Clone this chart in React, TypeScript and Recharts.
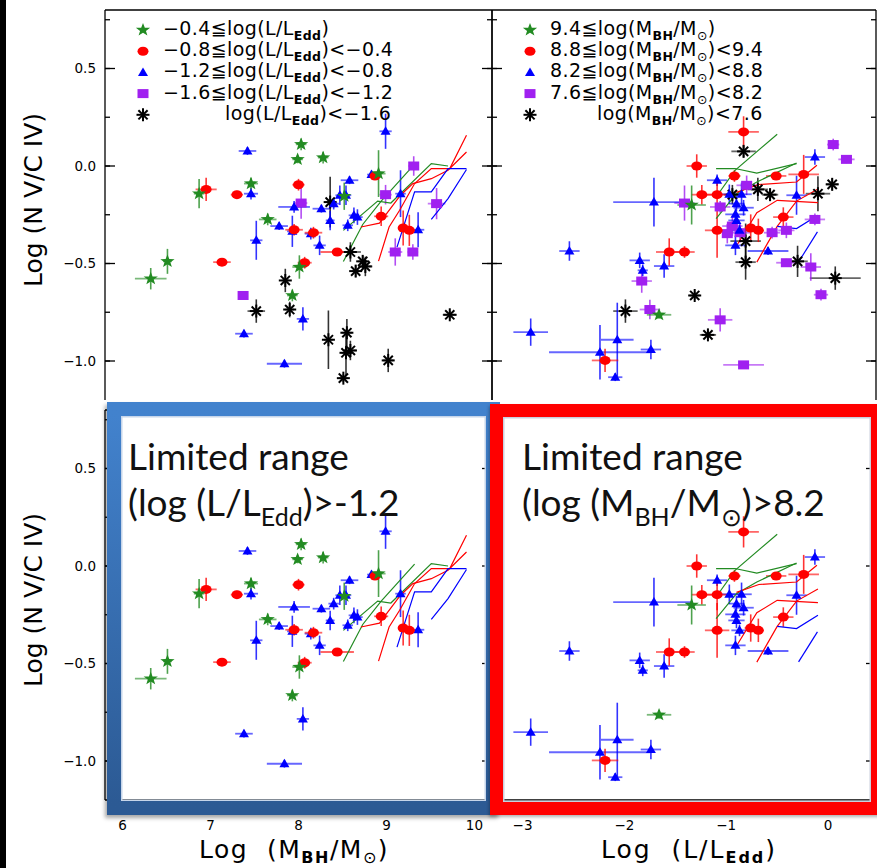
import React from "react";
import { ScatterChart, Scatter, XAxis, YAxis, ErrorBar } from "recharts";

type Err = number | [number, number];
type Pt = [number, number, Err, Err];

// log(NV/CIV) vs log(M_BH), split by Eddington ratio  [x, y, xerr, yerr]
const massEddStar: Pt[] = [
  [6.32, -0.578, 0.18, 0.055], [6.51, -0.489, 0.05, 0.064], [6.87, -0.142, 0.06, 0.075],
  [7.46, -0.09, 0.08, 0.03], [7.65, -0.274, 0.1, 0.03], [7.99, 0.034, 0.06, 0.02],
  [8.03, 0.111, 0.06, 0.03], [8.28, 0.043, 0.06, 0.03], [8.01, -0.518, 0.08, 0.06],
  [7.93, -0.664, 0.06, 0.03], [8.91, -0.039, 0.08, 0.12], [8.52, -0.155, 0.06, 0.07],
];
const massEddCircle: Pt[] = [
  [6.95, -0.12, 0.12, 0.06], [7.3, -0.147, 0.07, 0.02], [7.13, -0.493, 0.1, 0.01],
  [8.0, -0.096, 0.07, 0.03], [7.95, -0.327, 0.1, 0.03], [8.17, -0.342, 0.1, 0.03],
  [8.07, -0.496, 0.08, 0.03], [8.44, -0.441, 0.19, 0.02], [8.87, -0.051, 0.05, 0.02],
  [8.94, -0.258, 0.08, 0.05], [9.19, -0.318, 0.06, 0.09], [9.26, -0.33, 0.06, 0.08],
];
const massEddTri: Pt[] = [
  [7.42, 0.077, 0.1, 0.02], [7.46, -0.142, 0.08, 0.03], [7.52, -0.381, 0.07, 0.1],
  [7.38, -0.86, 0.1, 0.02], [7.84, -1.014, 0.2, 0.02], [8.05, -0.784, 0.07, 0.06],
  [7.78, -0.308, 0.1, 0.02], [7.95, -0.21, 0.18, 0.03], [7.93, -0.335, 0.06, 0.08],
  [8.14, -0.347, 0.07, 0.03], [8.24, -0.407, 0.07, 0.05], [8.26, -0.219, 0.1, 0.02],
  [8.36, -0.279, 0.05, 0.05], [8.4, -0.193, 0.06, 0.03], [8.47, -0.15, 0.05, 0.05],
  [8.54, -0.15, 0.06, 0.05], [8.58, -0.073, 0.1, 0.02], [8.56, -0.304, 0.06, 0.03],
  [8.63, -0.253, 0.06, 0.04], [8.67, -0.262, 0.06, 0.04], [8.83, -0.044, 0.05, 0.02],
  [8.99, 0.178, 0.07, 0.09], [9.16, -0.142, 0.06, 0.12], [9.36, -0.327, 0.07, 0.09],
];
const massEddSquare: Pt[] = [
  [7.37, -0.664, 0.03, 0.02], [8.03, -0.19, 0.07, 0.08], [8.99, -0.147, 0.07, 0.05],
  [9.31, 0.0, 0.06, 0.05], [9.57, -0.193, 0.1, 0.08], [9.1, -0.441, 0.08, 0.07],
  [9.3, -0.441, 0.06, 0.04],
];
const massEddAst: Pt[] = [
  [8.36, -0.185, 0.05, 0.13], [8.59, -0.441, 0.12, 0.05], [8.73, -0.489, 0.05, 0.03],
  [8.65, -0.539, 0.04, 0.03], [8.76, -0.515, 0.08, 0.05], [7.85, -0.587, 0.04, 0.06],
  [7.52, -0.744, 0.1, 0.06], [7.9, -0.736, 0.05, 0.04], [8.34, -0.891, 0.05, 0.15],
  [8.55, -0.855, 0.06, 0.07], [8.54, -0.958, 0.05, 0.12], [8.59, -0.946, 0.07, 0.05],
  [8.51, -1.088, 0.05, 0.02], [9.02, -0.997, 0.06, 0.06], [9.72, -0.763, 0.08, 0.02],
];

// log(NV/CIV) vs log(L/L_Edd), split by black hole mass
const eddMassStar: Pt[] = [
  [-1.34, -0.2, 0.14, 0.1], [-1.66, -0.763, 0.12, 0.02],
];
const eddMassCircle: Pt[] = [
  [-0.83, 0.175, 0.15, 0.08], [-1.29, 0.0, 0.1, 0.06], [-0.92, -0.051, 0.06, 0.03],
  [-0.51, -0.051, 0.1, 0.02], [-0.24, -0.043, 0.15, 0.1], [-1.24, -0.147, 0.1, 0.05],
  [-1.09, -0.147, 0.1, 0.08], [-1.09, -0.33, 0.12, 0.14], [-0.76, -0.318, 0.06, 0.07],
  [-0.685, -0.33, 0.05, 0.06], [-0.44, -0.262, 0.1, 0.05], [-1.56, -0.441, 0.13, 0.07],
  [-1.41, -0.441, 0.1, 0.03], [-2.19, -0.997, 0.13, 0.06],
];
const eddMassTri: Pt[] = [
  [-0.13, 0.046, 0.1, 0.04], [-1.09, -0.073, 0.1, 0.03], [-0.97, -0.145, 0.1, 0.05],
  [-0.85, -0.145, 0.1, 0.06], [-0.9, -0.193, 0.08, 0.04], [-0.83, -0.214, 0.1, 0.04],
  [-0.91, -0.248, 0.1, 0.03], [-0.9, -0.279, 0.08, 0.04], [-0.87, -0.33, 0.08, 0.03],
  [-0.91, -0.407, 0.1, 0.05], [-0.59, -0.436, 0.2, 0.02], [-0.31, -0.15, 0.1, 0.1],
  [-1.71, -0.185, [0.4, 0.38], 0.125], [-2.54, -0.436, 0.1, 0.05], [-1.85, -0.484, 0.1, 0.04],
  [-1.82, -0.535, 0.05, 0.03], [-1.61, -0.513, 0.1, 0.06], [-2.92, -0.852, 0.17, 0.07],
  [-2.07, -0.891, 0.16, 0.19], [-2.24, -0.955, [0.5, 0.49], 0.14], [-1.74, -0.941, 0.1, 0.05],
  [-2.09, -1.083, 0.07, 0.02],
];
const eddMassSquare: Pt[] = [
  [0.05, 0.11, 0.06, 0.03], [0.18, 0.034, 0.08, 0.02], [-0.8, -0.099, 0.1, 0.05],
  [-1.06, -0.21, 0.1, 0.03], [-1.41, -0.19, 0.1, 0.09], [-0.94, -0.308, 0.1, 0.05],
  [-0.99, -0.347, 0.05, 0.05], [-0.865, -0.342, 0.1, 0.05], [-0.55, -0.342, 0.08, 0.03],
  [-0.41, -0.33, 0.08, 0.04], [-0.13, -0.274, 0.1, 0.03], [-0.41, -0.496, 0.1, 0.02],
  [-0.17, -0.518, 0.1, 0.07], [-0.07, -0.66, 0.07, 0.03], [-1.83, -0.59, 0.1, 0.06],
  [-1.75, -0.736, 0.1, 0.05], [-1.06, -0.789, 0.12, 0.06], [-0.83, -1.02, 0.2, 0.02],
];
const eddMassAst: Pt[] = [
  [-0.83, 0.075, 0.12, 0.03], [-0.94, -0.147, 0.08, 0.05], [-0.69, -0.12, 0.1, 0.06],
  [-0.57, -0.147, 0.08, 0.03], [0.04, -0.094, 0.06, 0.03], [-0.1, -0.142, 0.12, 0.09],
  [-0.81, -0.385, 0.15, 0.09], [-0.81, -0.493, 0.1, 0.09], [-0.3, -0.489, 0.1, 0.08],
  [0.07, -0.575, 0.25, 0.06], [-1.31, -0.664, 0.05, 0.02], [-1.18, -0.866, 0.08, 0.02],
  [-1.99, -0.744, 0.12, 0.06],
];

// model tracks
const massTracksGreen = [
  [[8.51, -0.49], [8.73, -0.3], [8.94, -0.18], [9.32, 0.01]],
  [[8.51, -0.33], [8.9, -0.18], [9.05, -0.19], [9.51, 0.012], [9.7, 0.0]],
];
const massTracksRed = [
  [[8.71, -0.313], [8.92, -0.293], [9.16, -0.15], [9.3, -0.09], [9.51, -0.065], [9.7, -0.022], [9.91, 0.072]],
  [[8.91, -0.488], [9.03, -0.313], [9.15, -0.227], [9.32, -0.09], [9.51, -0.013], [9.72, -0.013], [9.91, 0.158]],
];
const massTracksBlue = [
  [[9.12, -0.416], [9.32, -0.133], [9.51, -0.133], [9.7, -0.013], [9.91, -0.013]],
  [[9.51, -0.274], [9.7, -0.167], [9.91, -0.018]],
];
const eddTracksGreen = [
  [[-1.1, -0.013], [-0.914, -0.013], [-0.7, -0.036], [-0.31, 0.012]],
  [[-1.1, -0.159], [-0.914, -0.022], [-0.5, 0.163]],
  [[-1.1, -0.27], [-0.9, -0.142], [-0.7, -0.082], [-0.31, 0.015]],
];
const eddTracksRed = [
  [[-0.9, -0.135], [-0.68, -0.095], [-0.31, -0.082], [-0.11, 0.004]],
  [[-0.9, -0.41], [-0.7, -0.24], [-0.5, -0.176], [-0.1, -0.188]],
  [[-0.7, -0.493], [-0.5, -0.31], [-0.31, -0.18], [-0.1, -0.118]],
];
const eddTracksBlue = [
  [[-0.5, -0.31], [-0.31, -0.321], [-0.1, -0.253]],
  [[-0.29, -0.492], [-0.105, -0.338]],
];

const yMajor = [-1, -0.5, 0, 0.5];
const yMinor = [-1, -0.75, -0.5, -0.25, 0, 0.25, 0.5, 0.75];
const massTicks = [6, 7, 8, 9, 10];
const massMinor = [6, 6.5, 7, 7.5, 8, 8.5, 9, 9.5, 10];
const eddTicks = [-3, -2, -1, 0];

const GREEN = "#228b22";
const RED = "#ff0000";
const BLUE = "#0000ff";
const PURPLE = "#a020f0";
const BLACK = "#000000";
const AXIS_FONT = "DejaVu Sans";
const THIN = 0.001; // mirrored axes take (almost) no room

const minus = (s: string) => s.replace("-", "\u2212");
const fmtY = (v: number) => minus(v.toFixed(1));
const fmtX = (v: number) => minus(String(v));

function starPoints(cx: number, cy: number, R: number, r: number) {
  const pts: string[] = [];
  for (let i = 0; i < 10; i++) {
    const a = -Math.PI / 2 + (i * Math.PI) / 5;
    const rad = i % 2 === 0 ? R : r;
    pts.push(`${cx + rad * Math.cos(a)},${cy + rad * Math.sin(a) * 0.92}`);
  }
  return pts.join(" ");
}

function Mark({ kind, cx, cy, color }: { kind: string; cx: number; cy: number; color: string }) {
  if (kind === "star") return <polygon points={starPoints(cx, cy, 7.5, 3.1)} fill={color} />;
  if (kind === "circle") return <ellipse cx={cx} cy={cy} rx={5.5} ry={4.5} fill={color} />;
  if (kind === "tri")
    return <polygon points={`${cx - 5},${cy + 3.5} ${cx + 5},${cy + 3.5} ${cx},${cy - 5}`} fill={color} />;
  if (kind === "square") return <rect x={cx - 5.5} y={cy - 4.5} width={11} height={9} fill={color} />;
  const d = 4.6;
  return (
    <g stroke={color} strokeWidth={2}>
      <line x1={cx - 6.5} y1={cy} x2={cx + 6.5} y2={cy} />
      <line x1={cx} y1={cy - 6.5} x2={cx} y2={cy + 6.5} />
      <line x1={cx - d} y1={cy - d} x2={cx + d} y2={cy + d} />
      <line x1={cx - d} y1={cy + d} x2={cx + d} y2={cy - d} />
    </g>
  );
}

type Group = { pts: Pt[]; kind: string; color: string };
type Track = { line: number[][]; color: string };

const toRows = (pts: Pt[]) => pts.map(([x, y, ex, ey]) => ({ x, y, ex, ey }));

function Panel(props: {
  left: number;
  top: number;
  width: number;
  height: number;
  margin: { top: number; right: number; bottom: number; left: number };
  xDomain: [number, number];
  xTicks: number[];
  xMinor: number[];
  yLabels: boolean;
  xLabels: boolean;
  groups: Group[];
  tracks: Track[];
}) {
  const { xDomain, xTicks, xMinor } = props;
  const tickStyle = { fontSize: 13.5, fill: "#000", fontFamily: AXIS_FONT };
  const blank = () => "";
  const frame = { stroke: "#000", strokeWidth: 1.3 };
  return (
    <div style={{ position: "absolute", left: props.left, top: props.top }}>
      <ScatterChart width={props.width} height={props.height} margin={props.margin}>
        <XAxis
          xAxisId="x"
          type="number"
          dataKey="x"
          domain={xDomain}
          ticks={xTicks}
          interval={0}
          allowDataOverflow
          hide={!props.xLabels}
          height={30}
          tickSize={0}
          tickMargin={20}
          axisLine={false}
          tick={tickStyle}
          tickFormatter={fmtX}
        />
        <XAxis xAxisId="xt" type="number" orientation="top" mirror height={THIN} domain={xDomain}
          ticks={xMinor} interval={0} allowDataOverflow tickSize={7} axisLine={frame} tickLine={frame}
          tickFormatter={blank} />
        {props.xLabels && (
          <XAxis xAxisId="xb" type="number" orientation="bottom" mirror height={THIN} domain={xDomain}
            ticks={xMinor} interval={0} allowDataOverflow tickSize={7} axisLine={frame} tickLine={frame}
            tickFormatter={blank} />
        )}
        <YAxis
          yAxisId="y"
          type="number"
          dataKey="y"
          domain={[-1.2, 0.8]}
          ticks={yMajor}
          interval={0}
          allowDataOverflow
          hide={!props.yLabels}
          width={60}
          tickSize={0}
          tickMargin={9}
          axisLine={false}
          tick={tickStyle}
          tickFormatter={fmtY}
        />
        <YAxis yAxisId="yl" type="number" mirror width={THIN} domain={[-1.2, 0.8]} ticks={yMinor} interval={0}
          allowDataOverflow tickSize={5} axisLine={frame} tickLine={frame} tickFormatter={blank} />
        <YAxis yAxisId="yL" type="number" mirror width={THIN} domain={[-1.2, 0.8]} ticks={yMajor} interval={0}
          allowDataOverflow tickSize={10} axisLine={false} tickLine={frame} tickFormatter={blank} />
        <YAxis yAxisId="yr" type="number" orientation="right" mirror width={THIN} domain={[-1.2, 0.8]}
          ticks={yMinor} interval={0} allowDataOverflow tickSize={5} axisLine={frame} tickLine={frame}
          tickFormatter={blank} />
        <YAxis yAxisId="yR" type="number" orientation="right" mirror width={THIN} domain={[-1.2, 0.8]}
          ticks={yMajor} interval={0} allowDataOverflow tickSize={10} axisLine={false} tickLine={frame}
          tickFormatter={blank} />
        {props.tracks.map((t, i) => (
          <Scatter
            key={`t${i}`}
            xAxisId="x"
            yAxisId="y"
            data={t.line.map(([x, y]) => ({ x, y }))}
            line={{ stroke: t.color, strokeWidth: 1.2 }}
            shape={() => <g />}
            isAnimationActive={false}
          />
        ))}
        {props.groups.map((g, i) => (
          <Scatter
            key={`g${i}`}
            xAxisId="x"
            yAxisId="y"
            data={toRows(g.pts)}
            fill={g.color}
            shape={(p: any) => <Mark kind={g.kind} cx={p.cx} cy={p.cy} color={g.color} />}
            isAnimationActive={false}
          >
            <ErrorBar dataKey="ex" direction="x" width={0} stroke={g.color} strokeOpacity={0.6} strokeWidth={1.8} />
            <ErrorBar dataKey="ey" direction="y" width={0} stroke={g.color} strokeOpacity={0.8} strokeWidth={1.6} />
          </Scatter>
        ))}
      </ScatterChart>
    </div>
  );
}

function LegendMark({ kind, x, y }: { kind: string; x: number; y: number }) {
  const colors: Record<string, string> = { star: GREEN, circle: RED, tri: BLUE, square: PURPLE, ast: BLACK };
  return <Mark kind={kind} cx={x} cy={y} color={colors[kind]} />;
}

const legendKinds = ["star", "circle", "tri", "square", "ast"];
const eddLegend = [
  ["\u22120.4\u2266log(L/L", ""],
  ["\u22120.8\u2266log(L/L", "<\u22120.4"],
  ["\u22121.2\u2266log(L/L", "<\u22120.8"],
  ["\u22121.6\u2266log(L/L", "<\u22121.2"],
  ["log(L/L", "<\u22121.6"],
];
const massLegend = [
  ["9.4\u2266log(M", ""],
  ["8.8\u2266log(M", "<9.4"],
  ["8.2\u2266log(M", "<8.8"],
  ["7.6\u2266log(M", "<8.2"],
  ["log(M", "<7.6"],
];

export default function App() {
  const topMassGroups: Group[] = [
    { pts: massEddAst, kind: "ast", color: BLACK },
    { pts: massEddSquare, kind: "square", color: PURPLE },
    { pts: massEddTri, kind: "tri", color: BLUE },
    { pts: massEddCircle, kind: "circle", color: RED },
    { pts: massEddStar, kind: "star", color: GREEN },
  ];
  const topEddGroups: Group[] = [
    { pts: eddMassAst, kind: "ast", color: BLACK },
    { pts: eddMassSquare, kind: "square", color: PURPLE },
    { pts: eddMassTri, kind: "tri", color: BLUE },
    { pts: eddMassCircle, kind: "circle", color: RED },
    { pts: eddMassStar, kind: "star", color: GREEN },
  ];
  const massTracks: Track[] = [
    ...massTracksGreen.map((line) => ({ line, color: GREEN })),
    ...massTracksRed.map((line) => ({ line, color: RED })),
    ...massTracksBlue.map((line) => ({ line, color: BLUE })),
  ];
  const eddTracks: Track[] = [
    ...eddTracksGreen.map((line) => ({ line, color: GREEN })),
    ...eddTracksRed.map((line) => ({ line, color: RED })),
    ...eddTracksBlue.map((line) => ({ line, color: BLUE })),
  ];

  const legendBase = 35;
  const legendStep = 21.2;
  const legFont = { fontFamily: AXIS_FONT, fontSize: 19, fill: "#000", letterSpacing: 0.4 };
  const bigFont = { fontFamily: "Lato", fontSize: 37, fill: "#111" };
  const titleFont = { fontFamily: AXIS_FONT, fontSize: 25, fill: "#000" };

  return (
    <div
      style={{
        position: "fixed",
        left: 0,
        top: 0,
        width: 877,
        height: 868,
        overflow: "hidden",
        background: "#fff",
      }}
    >
      <Panel left={0} top={0} width={500} height={410} margin={{ top: 10, right: 8, bottom: 10, left: 45 }}
        xDomain={[5.8, 10.2]} xTicks={massTicks} xMinor={massMinor} yLabels xLabels={false}
        groups={topMassGroups} tracks={massTracks} />
      <Panel left={480} top={0} width={400} height={410} margin={{ top: 10, right: 4, bottom: 10, left: 12 }}
        xDomain={[-3.3, 0.47]} xTicks={eddTicks} xMinor={eddTicks} yLabels={false} xLabels={false}
        groups={topEddGroups} tracks={eddTracks} />
      <Panel left={0} top={400} width={500} height={468} margin={{ top: 10, right: 8, bottom: 38, left: 45 }}
        xDomain={[5.8, 10.2]} xTicks={massTicks} xMinor={massMinor} yLabels xLabels
        groups={topMassGroups.slice(2)} tracks={massTracks} />
      <Panel left={480} top={400} width={400} height={468} margin={{ top: 10, right: 4, bottom: 38, left: 12 }}
        xDomain={[-3.3, 0.47]} xTicks={eddTicks} xMinor={eddTicks} yLabels={false} xLabels
        groups={topEddGroups.slice(2)} tracks={eddTracks} />

      <div
        style={{
          position: "absolute",
          left: 107,
          top: 402,
          width: 393,
          height: 413,
          boxSizing: "border-box",
          borderStyle: "solid",
          borderWidth: 14,
          borderImage: "linear-gradient(180deg, #4282cd, #2c5a94) 1",
          boxShadow: "inset 0 0 0 1.5px #c6d5ea, -2px 3px 4px rgba(0,0,0,0.35)",
        }}
      />
      <div
        style={{
          position: "absolute",
          left: 490,
          top: 404,
          width: 394,
          height: 411,
          boxSizing: "border-box",
          border: "13px solid #ff0000",
          boxShadow: "inset 0 0 0 1.5px #c9d0de, -1px 2px 3px rgba(0,0,0,0.3)",
        }}
      />

      <svg width={877} height={868} style={{ position: "absolute", left: 0, top: 0 }}>
        <rect x={0} y={0} width={6} height={868} fill="#000" />

        {eddLegend.map(([pre, post], i) => {
          const y = legendBase + i * legendStep;
          return (
            <g key={`el${i}`}>
              <LegendMark kind={legendKinds[i]} x={143} y={y - 5} />
              <text x={i === 4 ? 225 : 163} y={y} {...legFont}>
                {pre}
                <tspan fontSize={12.5} fontWeight="bold" dy={5}>Edd</tspan>
                <tspan dy={-5}>){post}</tspan>
              </text>
            </g>
          );
        })}
        {massLegend.map(([pre, post], i) => {
          const y = legendBase + i * legendStep;
          return (
            <g key={`ml${i}`}>
              <LegendMark kind={legendKinds[i]} x={530} y={y - 5} />
              <text x={i === 4 ? 597 : 550} y={y} {...legFont}>
                {pre}
                <tspan fontSize={12.5} fontWeight="bold" dy={5}>BH</tspan>
                <tspan dy={-5}>/M</tspan>
                <tspan fontSize={12.5} dy={5}>{"\u2299"}</tspan>
                <tspan dy={-5}>){post}</tspan>
              </text>
            </g>
          );
        })}

        {[200, 600].map((cy) => (
          <text key={cy} x={42} y={cy} textAnchor="middle" transform={`rotate(-90 42 ${cy})`} {...titleFont}>
            Log (N V/C IV)
          </text>
        ))}
        <text x={294} y={858} textAnchor="middle" {...titleFont} letterSpacing={1.5}>
          {"Log\u00a0\u00a0(M"}
          <tspan fontSize={16} fontWeight="bold" dy={5}>BH</tspan>
          <tspan dy={-5}>/M</tspan>
          <tspan fontSize={16} dy={5}>{"\u2299"}</tspan>
          <tspan dy={-5}>)</tspan>
        </text>
        <text x={689} y={858} textAnchor="middle" {...titleFont} letterSpacing={2}>
          {"Log\u00a0\u00a0(L/L"}
          <tspan fontSize={16} fontWeight="bold" dy={5}>Edd</tspan>
          <tspan dy={-5}>)</tspan>
        </text>

        <text x={128} y={470} {...bigFont}>Limited range</text>
        <text x={128} y={516} {...bigFont}>
          (log (L/L
          <tspan fontSize={25} dy={10}>Edd</tspan>
          <tspan dy={-10}>{")>-1.2"}</tspan>
        </text>
        <text x={522} y={470} {...bigFont}>Limited range</text>
        <text x={522} y={516} {...bigFont}>
          (log (M
          <tspan fontSize={25} dy={10}>BH</tspan>
          <tspan dy={-10}>/M</tspan>
          <tspan fontSize={25} dy={10}>{"\u2299"}</tspan>
          <tspan dy={-10}>{")>8.2"}</tspan>
        </text>
      </svg>
    </div>
  );
}
